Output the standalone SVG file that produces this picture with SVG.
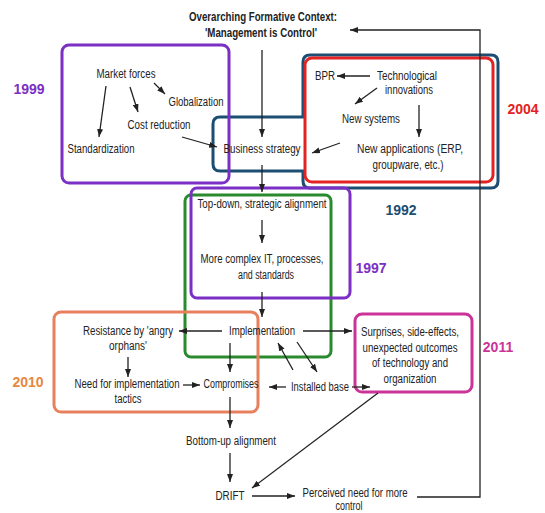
<svg xmlns="http://www.w3.org/2000/svg" width="545" height="513" viewBox="0 0 545 513">
<defs>
<marker id="ah" markerUnits="userSpaceOnUse" markerWidth="9" markerHeight="7" refX="8" refY="3" orient="auto">
<path d="M0,0 L8,3 L0,6 z" fill="#222"/>
</marker>
<style>
.t{font-family:"Liberation Sans",Arial,sans-serif;font-size:12px;fill:#222;text-anchor:middle}
.b{font-weight:bold}
.yr{font-family:"Liberation Sans",Arial,sans-serif;font-size:14px;font-weight:bold;text-anchor:middle}
.box{fill:none;stroke-width:3}
.c line,.c polyline{stroke:#222;stroke-width:1.3;fill:none;marker-end:url(#ah)}
</style>
</defs>
<rect width="545" height="513" fill="#fff"/>

<g id="boxes">
<path id="box1992" class="box" stroke="#1B4E72" d="M310,55 H491 Q498,55 498,62 V181 Q498,188 491,188 H310 Q303,188 303,181 V171 H220 Q213,171 213,164 V124 Q213,117 220,117 H303 V62 Q303,55 310,55 Z"/>
<rect id="box2004" class="box" stroke="#E32222" x="305" y="58" width="188" height="124" rx="7"/>
<rect id="box1999" class="box" stroke="#7B2FC4" x="62" y="45" width="167" height="138" rx="7"/>
<rect id="box1997g" class="box" stroke="#2A8A2E" x="185" y="195" width="146" height="162" rx="6"/>
<rect id="box1997p" class="box" stroke="#7B2FC4" x="191" y="188" width="159" height="110" rx="6"/>
<rect id="box2010" class="box" stroke="#E8805E" x="54" y="312" width="204" height="100" rx="7"/>
<rect id="box2011" class="box" stroke="#CC3399" x="355" y="314" width="117" height="78" rx="7"/>
</g>

<g id="years">
<text class="yr" x="29" y="94" fill="#7B2FC4">1999</text>
<text class="yr" x="523" y="114" fill="#E32222">2004</text>
<text class="yr" x="401" y="215" fill="#1B4E72">1992</text>
<text class="yr" x="371" y="273" fill="#7B2FC4">1997</text>
<text class="yr" x="28" y="387" fill="#E8873E">2010</text>
<text class="yr" x="498" y="352" fill="#CC3399">2011</text>
</g>

<g class="c" id="connectors">
<line x1="262" y1="50" x2="262" y2="137"/>
<line x1="106" y1="86" x2="99" y2="137"/>
<line x1="130" y1="87" x2="138" y2="112"/>
<line x1="154" y1="83" x2="165" y2="94"/>
<line x1="182" y1="137" x2="217" y2="147"/>
<line x1="370" y1="76" x2="337" y2="76"/>
<line x1="377" y1="88" x2="355" y2="104"/>
<line x1="419" y1="105" x2="419" y2="137"/>
<line x1="340" y1="143" x2="312" y2="153"/>
<line x1="262" y1="165" x2="262" y2="192"/>
<line x1="262" y1="220" x2="262" y2="243"/>
<line x1="262" y1="292" x2="262" y2="317"/>
<line x1="222" y1="331" x2="179" y2="331"/>
<line x1="303" y1="331" x2="352" y2="331"/>
<line x1="230" y1="343" x2="230" y2="372"/>
<line x1="128" y1="357" x2="128" y2="377"/>
<line x1="183" y1="385" x2="200" y2="385"/>
<line x1="293" y1="370" x2="278" y2="343"/>
<line x1="297" y1="342" x2="317" y2="372"/>
<line x1="286" y1="387" x2="269" y2="387"/>
<line x1="352" y1="387" x2="370" y2="387"/>
<line x1="230" y1="397" x2="230" y2="428"/>
<line x1="230" y1="453" x2="230" y2="482"/>
<line x1="378" y1="393" x2="252" y2="488"/>
<line x1="252" y1="496" x2="295" y2="496"/>
<polyline points="417,497 480,497 480,30 350,30"/>
</g>

<g id="n-title"><text class="t b" x="263" y="21" textLength="148" lengthAdjust="spacingAndGlyphs">Overarching Formative Context:</text>
<text class="t b" x="261" y="37" textLength="112" lengthAdjust="spacingAndGlyphs">'Management is Control'</text></g>
<g id="n-market"><text class="t" x="126" y="78" textLength="59" lengthAdjust="spacingAndGlyphs">Market forces</text></g>
<g id="n-glob"><text class="t" x="196" y="106" textLength="55" lengthAdjust="spacingAndGlyphs">Globalization</text></g>
<g id="n-cost"><text class="t" x="159" y="129" textLength="63" lengthAdjust="spacingAndGlyphs">Cost reduction</text></g>
<g id="n-std"><text class="t" x="101" y="153" textLength="67" lengthAdjust="spacingAndGlyphs">Standardization</text></g>
<g id="n-bs"><text class="t" x="262" y="153" textLength="77" lengthAdjust="spacingAndGlyphs">Business strategy</text></g>
<g id="n-bpr"><text class="t" x="325" y="80" textLength="20" lengthAdjust="spacingAndGlyphs">BPR</text></g>
<g id="n-tech"><text class="t" x="407" y="80" textLength="60" lengthAdjust="spacingAndGlyphs">Technological</text>
<text class="t" x="409" y="94" textLength="48" lengthAdjust="spacingAndGlyphs">innovations</text></g>
<g id="n-newsys"><text class="t" x="371" y="123" textLength="58" lengthAdjust="spacingAndGlyphs">New systems</text></g>
<g id="n-newapp"><text class="t" x="410" y="153" textLength="106" lengthAdjust="spacingAndGlyphs">New applications (ERP,</text>
<text class="t" x="408" y="169" textLength="71" lengthAdjust="spacingAndGlyphs">groupware, etc.)</text></g>
<g id="n-topdown"><text class="t" x="262" y="208" textLength="129" lengthAdjust="spacingAndGlyphs">Top-down, strategic alignment</text></g>
<g id="n-complex"><text class="t" x="262" y="263" textLength="123" lengthAdjust="spacingAndGlyphs">More complex IT, processes,</text>
<text class="t" x="266" y="279" textLength="56" lengthAdjust="spacingAndGlyphs">and standards</text></g>
<g id="n-impl"><text class="t" x="262" y="335" textLength="66" lengthAdjust="spacingAndGlyphs">Implementation</text></g>
<g id="n-resist"><text class="t" x="128" y="335" textLength="90" lengthAdjust="spacingAndGlyphs">Resistance by 'angry</text>
<text class="t" x="128" y="350" textLength="38" lengthAdjust="spacingAndGlyphs">orphans'</text></g>
<g id="n-need"><text class="t" x="127" y="388" textLength="105" lengthAdjust="spacingAndGlyphs">Need for implementation</text>
<text class="t" x="128" y="403" textLength="27" lengthAdjust="spacingAndGlyphs">tactics</text></g>
<g id="n-comp"><text class="t" x="231" y="388" textLength="55" lengthAdjust="spacingAndGlyphs">Compromises</text></g>
<g id="n-installed"><text class="t" x="320" y="391" textLength="58" lengthAdjust="spacingAndGlyphs">Installed base</text></g>
<g id="n-surprises"><text class="t" x="410" y="336" textLength="98" lengthAdjust="spacingAndGlyphs">Surprises, side-effects,</text>
<text class="t" x="410" y="352" textLength="95" lengthAdjust="spacingAndGlyphs">unexpected outcomes</text>
<text class="t" x="410" y="367" textLength="76" lengthAdjust="spacingAndGlyphs">of technology and</text>
<text class="t" x="410" y="383" textLength="53" lengthAdjust="spacingAndGlyphs">organization</text></g>
<g id="n-bottomup"><text class="t" x="231" y="445" textLength="90" lengthAdjust="spacingAndGlyphs">Bottom-up alignment</text></g>
<g id="n-drift"><text class="t" x="230" y="500" textLength="29" lengthAdjust="spacingAndGlyphs">DRIFT</text></g>
<g id="n-perceived"><text class="t" x="355" y="497" textLength="105" lengthAdjust="spacingAndGlyphs">Perceived need for more</text>
<text class="t" x="349" y="510" textLength="27" lengthAdjust="spacingAndGlyphs">control</text></g>
</svg>
